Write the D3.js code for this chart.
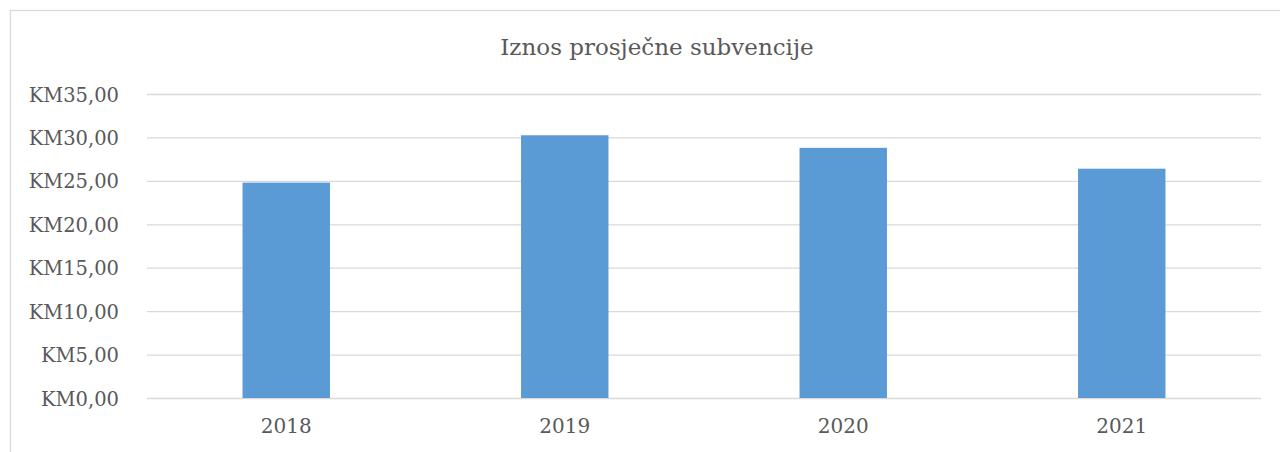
<!DOCTYPE html>
<html><head><meta charset="utf-8">
<script src="https://cdn.jsdelivr.net/npm/d3@7"></script>
<style>body{margin:0;background:#fff}svg{display:block}</style>
</head><body>
<svg id="c" width="1280" height="452"></svg>
<script>
const categories = ["2018","2019","2020","2021"];
const values = [24.8, 30.25, 28.8, 26.4];
const yTicks = [0,5,10,15,20,25,30,35];
const title = "Iznos prosječne subvencije";

(function(){
const svg = d3.select("#c");
const font = "'DejaVu Serif', 'Liberation Serif', serif";
const grey = "#595959";
const mL = 147, mR = 1261, mT = 94, mB = 398;

svg.append("rect").attr("x",10.5).attr("y",10.5).attr("width",1300).attr("height",500)
  .attr("fill","#fff").attr("stroke","#d9d9d9").attr("stroke-width",1.3);

const x = d3.scaleBand().domain(categories).range([mL,mR]).paddingInner(0.686).paddingOuter(0.343);
const y = d3.scaleLinear().domain([0,35]).range([mB,mT]);

svg.append("text").attr("x",657).attr("y",55).attr("text-anchor","middle")
  .attr("font-family",font).attr("font-size",23).attr("fill",grey).text(title);

const yAxis = svg.append("g").attr("transform",`translate(${mL},0)`)
  .call(d3.axisLeft(y).tickValues(yTicks).tickSize(-(mR-mL)).tickPadding(28)
    .tickFormat(d => "KM" + d3.format(".2f")(d).replace(".",",")));
yAxis.select(".domain").remove();
yAxis.selectAll("line").attr("stroke","#d9d9d9").attr("stroke-width",1.3);
yAxis.selectAll("text").attr("font-family",font).attr("font-size",19.5).attr("fill",grey).attr("dy","0.36em");

svg.append("g").selectAll("rect").data(values).join("rect")
  .attr("x",(d,i)=>x(categories[i])).attr("width",x.bandwidth())
  .attr("y",d=>y(d)).attr("height",d=>y(0)-y(d)).attr("fill","#5b9bd5");

const xAxis = svg.append("g").attr("transform",`translate(0,${mB})`)
  .call(d3.axisBottom(x).tickSize(0).tickPadding(21));
xAxis.select(".domain").remove();
xAxis.selectAll("text").attr("font-family",font).attr("font-size",20).attr("fill",grey);
})();
</script>
</body></html>
